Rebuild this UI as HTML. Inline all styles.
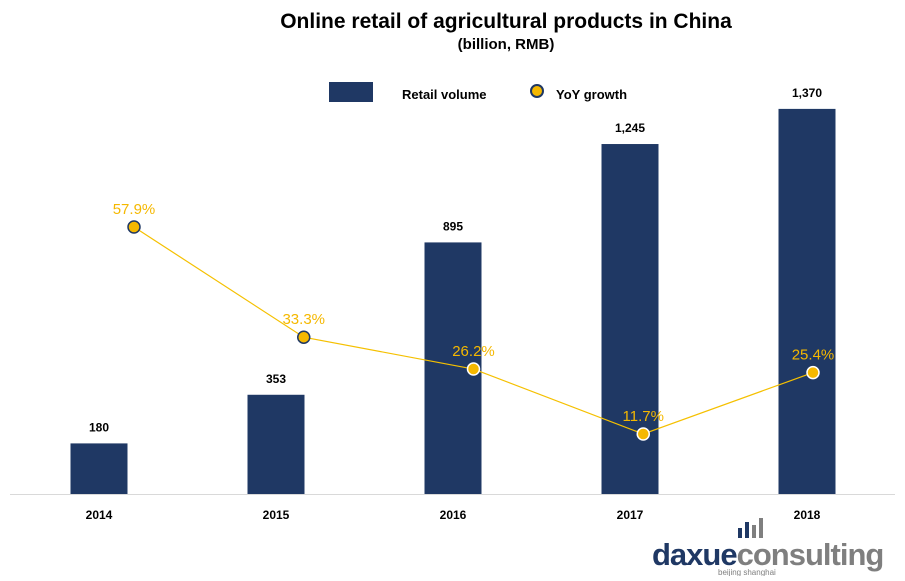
<!DOCTYPE html>
<html><head><meta charset="utf-8">
<style>
body{margin:0;background:#fff;width:905px;height:576px;overflow:hidden;font-family:"Liberation Sans",Arial,sans-serif;}
</style></head>
<body>
<svg id="c" width="905" height="576" xmlns="http://www.w3.org/2000/svg">
<text x="506" y="28" text-anchor="middle" font-size="21" font-weight="bold" fill="#000">Online retail of agricultural products in China</text>
<text x="506" y="49" text-anchor="middle" font-size="15" font-weight="bold" fill="#000">(billion, RMB)</text>
<g>
<rect x="329" y="82" width="44" height="20" fill="#1f3864"/>
<text x="402" y="99" font-size="13" font-weight="bold">Retail volume</text>
<circle cx="537" cy="91" r="6" fill="#f5b800" stroke="#1f3864" stroke-width="2"/>
<text x="556" y="99" font-size="13" font-weight="bold">YoY growth</text>
</g>
<line x1="10" y1="494.5" x2="895" y2="494.5" stroke="#d9d9d9"/>
<g id="bars"></g><g id="line"></g>
<g>
<rect x="738" y="528" width="4" height="10" fill="#1f3864"/><rect x="745" y="522" width="4" height="16" fill="#1f3864"/><rect x="752" y="525" width="4" height="13" fill="#7f7f7f"/><rect x="759" y="518" width="4" height="20" fill="#7f7f7f"/>
<text x="652" y="565" font-size="31" font-weight="bold" letter-spacing="-1"><tspan fill="#1f3864">daxue</tspan><tspan fill="#7f7f7f">consulting</tspan></text>
<text x="718" y="575" font-size="8" fill="#7f7f7f">beijing shanghai</text>
</g>
</svg>
<script>
const categories=["2014","2015","2016","2017","2018"];
const volumes=[180,353,895,1245,1370];
const volumeLabels=["180","353","895","1,245","1,370"];
const growth=[57.9,33.3,26.2,11.7,25.4];
const growthLabels=["57.9%","33.3%","26.2%","11.7%","25.4%"];
const NS="http://www.w3.org/2000/svg";
function xBar(i){return 99+i*177;}
function yBar(v){return 494-v*0.2811;}
function xPt(i){return 134+i*169.75;}
function yPt(v){return 486.4-v*4.48;}
function mk(t,a,p){const e=document.createElementNS(NS,t);for(const k in a)e.setAttribute(k,a[k]);p.appendChild(e);return e;}
const bg=document.getElementById('bars');
categories.forEach((c,i)=>{
 const r=mk('rect',{x:xBar(i)-28.5,y:yBar(volumes[i]),width:57,height:494-yBar(volumes[i]),fill:'#1f3864'},bg);
 
 
 const t=mk('text',{x:xBar(i),y:yBar(volumes[i])-12,'text-anchor':'middle','font-size':12,'font-weight':'bold'},bg);
 t.textContent=volumeLabels[i];
 
 
 const x=mk('text',{x:xBar(i),y:519,'text-anchor':'middle','font-size':12,'font-weight':'bold'},bg);
 x.textContent=c;
 
 
});
const lg=document.getElementById('line');
const pl=mk('polyline',{points:growth.map((v,i)=>xPt(i)+','+yPt(v)).join(' '),fill:'none',stroke:'#f5c000','stroke-width':1.2},lg);


growth.forEach((v,i)=>{
 const p=mk('circle',{cx:xPt(i),cy:yPt(v),r:6,fill:'#f5b800',stroke:i<2?'#1f3864':'#ffffff','stroke-width':1.5},lg);
 
 
 const t=mk('text',{x:xPt(i),y:yPt(v)-13,'text-anchor':'middle','font-size':15,fill:'#f5b800'},lg);
 t.textContent=growthLabels[i];
 
 
});
</script>
</body></html>
